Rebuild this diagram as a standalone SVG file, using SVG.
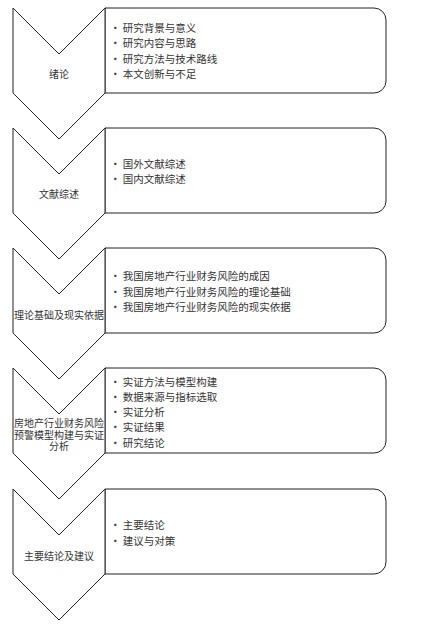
<svg xmlns="http://www.w3.org/2000/svg" width="421" height="626" viewBox="0 0 421 626">
<style>
.chev{fill:#fff;stroke:#222;stroke-width:1}
.box{fill:#fff;stroke:#222;stroke-width:1}
.lbl{font-family:"Noto Sans CJK SC","Noto Sans",sans-serif;font-size:10px;fill:#333;text-anchor:middle;dominant-baseline:central}
.itm{font-family:"Noto Sans CJK SC","Noto Sans",sans-serif;font-size:10.5px;fill:#333;dominant-baseline:central}
</style>
<defs>
<path id="chevShape" d="M13,0 L59,46 L105,0 L105,85 L59,131 L13,85 Z"/>
<path id="boxShape" d="M105,0 H374 A12,12 0 0 1 386,12 V73 A12,12 0 0 1 374,85 H105 Z"/>
</defs>
<rect width="421" height="626" fill="#fff"/>
<g id="connectors"></g>

<g id="node1" transform="translate(0,8)">
<use href="#boxShape" class="box"/>
<use href="#chevShape" class="chev"/>
<text class="lbl" x="59" y="65.5">绪论</text>
<text class="itm" x="110" y="19">• 研究背景与意义</text>
<text class="itm" x="110" y="34.5">• 研究内容与思路</text>
<text class="itm" x="110" y="50">• 研究方法与技术路线</text>
<text class="itm" x="110" y="65.5">• 本文创新与不足</text>
</g>

<g id="node2" transform="translate(0,128)">
<use href="#boxShape" class="box"/>
<use href="#chevShape" class="chev"/>
<text class="lbl" x="59" y="65.5">文献综述</text>
<text class="itm" x="110" y="35">• 国外文献综述</text>
<text class="itm" x="110" y="50.5">• 国内文献综述</text>
</g>

<g id="node3" transform="translate(0,248)">
<use href="#boxShape" class="box"/>
<use href="#chevShape" class="chev"/>
<text class="lbl" x="59" y="66">理论基础及现实依据</text>
<text class="itm" x="110" y="27.5">• 我国房地产行业财务风险的成因</text>
<text class="itm" x="110" y="43">• 我国房地产行业财务风险的理论基础</text>
<text class="itm" x="110" y="58.5">• 我国房地产行业财务风险的现实依据</text>
</g>

<g id="node4" transform="translate(0,368)">
<use href="#boxShape" class="box"/>
<use href="#chevShape" class="chev"/>
<text class="lbl" x="59" y="54.5">房地产行业财务风险</text>
<text class="lbl" x="59" y="66">预警模型构建与实证</text>
<text class="lbl" x="59" y="77.5">分析</text>
<text class="itm" x="110" y="13">• 实证方法与模型构建</text>
<text class="itm" x="110" y="28">• 数据来源与指标选取</text>
<text class="itm" x="110" y="43.5">• 实证分析</text>
<text class="itm" x="110" y="58.5">• 实证结果</text>
<text class="itm" x="110" y="74">• 研究结论</text>
</g>

<g id="node5" transform="translate(0,489)">
<use href="#boxShape" class="box"/>
<use href="#chevShape" class="chev"/>
<text class="lbl" x="59" y="66">主要结论及建议</text>
<text class="itm" x="110" y="35">• 主要结论</text>
<text class="itm" x="110" y="51">• 建议与对策</text>
</g>
</svg>
